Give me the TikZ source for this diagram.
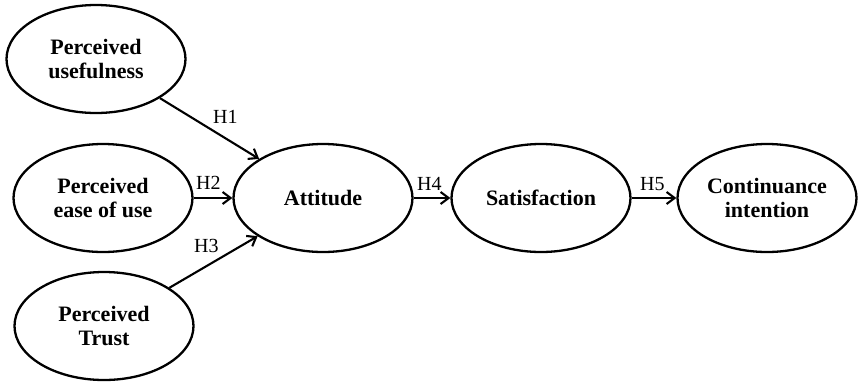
\documentclass[tikz,border=0pt]{standalone}
\usepackage{fontspec}
\setmainfont{Liberation Serif}
\usetikzlibrary{shapes.geometric,arrows.meta}
\begin{document}
\begin{tikzpicture}[x=1pt,y=-1pt,
  construct/.style={draw, line width=2.3pt, ellipse, minimum width=179pt, minimum height=108pt, inner sep=0pt, align=center, font=\fontsize{22}{24}\selectfont\bfseries},
  arr/.style={line width=2.1pt, -{Straight Barb[length=8pt,width=12pt,line width=2.1pt]}},
  hlabel/.style={anchor=base west, inner sep=0pt, font=\fontsize{20}{22}\selectfont}]
\useasboundingbox (0,0) rectangle (859,381);
\node[construct] (pu) at (96,59) {Perceived\\usefulness};
\node[construct] (peou) at (103,198) {Perceived\\ease of use};
\node[construct] (pt) at (104,326) {Perceived\\Trust};
\node[construct] (att) at (323,198) {Attitude};
\node[construct] (sat) at (541,198) {Satisfaction};
\node[construct] (ci) at (767,198) {Continuance\\intention};
\draw[arr] (pu) -- (att);
\draw[arr] (peou) -- (att);
\draw[arr] (pt) -- (att);
\draw[arr] (att) -- (sat);
\draw[arr] (sat) -- (ci);
\node[hlabel] (h1) at (213,123) {H1};
\node[hlabel] (h2) at (196,189) {H2};
\node[hlabel] (h3) at (194,252) {H3};
\node[hlabel] (h4) at (417,190) {H4};
\node[hlabel] (h5) at (640,190) {H5};
\end{tikzpicture}
\end{document}
